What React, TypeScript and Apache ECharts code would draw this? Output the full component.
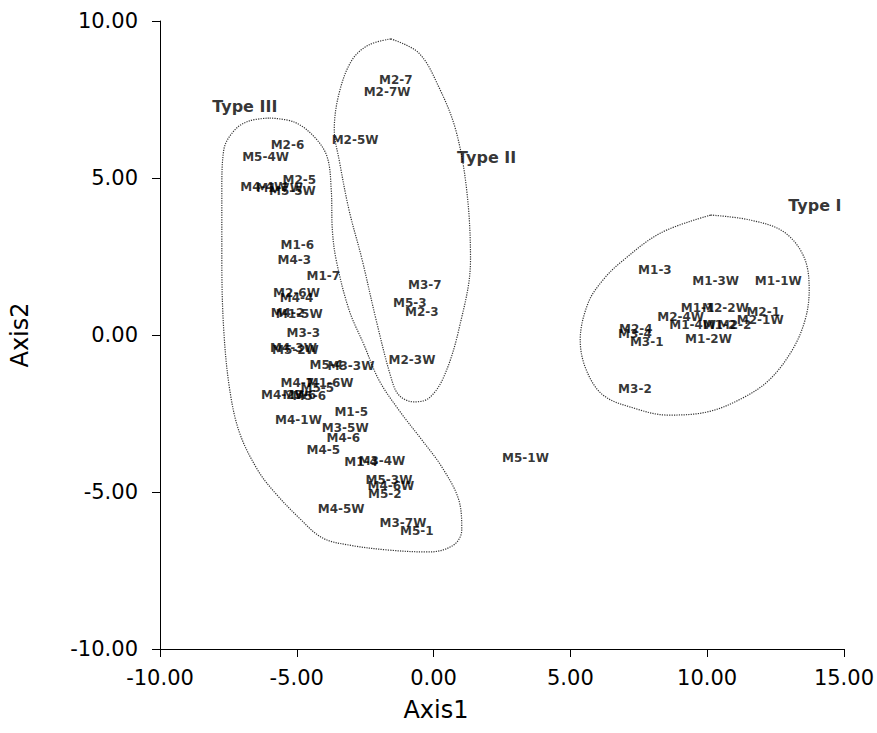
import React, { useEffect, useRef } from "react";
import * as echarts from "echarts";

// Sample labels and their coordinates (Axis1, Axis2)
const pointNames = [
  "M2-6", "M5-4W", "M2-5", "M4-4W", "M1-7W", "M5-5W", "M1-6", "M4-3", "M1-7",
  "M2-6W", "M4-4", "M4-2", "M1-5W", "M3-3", "M4-3W", "M5-2W", "M5-4", "M3-3W",
  "M4-7", "M5-5", "M1-6W", "M4-2W", "M3-6", "M5-6", "M1-5", "M4-1W", "M3-5W",
  "M4-6", "M4-5", "M1-4", "M3-4W", "M5-3W", "M4-6W", "M5-2", "M4-5W", "M3-7W", "M5-1",
  "M2-7", "M2-7W", "M2-5W", "M3-7", "M5-3", "M2-3", "M2-3W",
  "M1-3", "M1-3W", "M1-1W", "M1-1", "M2-2W", "M2-1", "M2-1W", "M2-4W", "M1-4W",
  "M1-2", "M2-2", "M1-2W", "M2-4", "M3-4", "M3-1", "M3-2",
  "M5-1W",
];
const pointX = [
  -5.34, -6.14, -4.91, -6.21, -5.63, -5.16, -4.98, -5.09, -4.03,
  -5.01, -5.01, -5.34, -4.91, -4.76, -5.12, -5.05, -3.92, -3.02,
  -4.98, -4.25, -3.78, -5.45, -4.91, -4.54, -3.01, -4.94, -3.23,
  -3.3, -4.03, -2.65, -1.89, -1.63, -1.56, -1.78, -3.38, -1.12, -0.61,
  -1.38, -1.7, -2.87, -0.32, -0.87, -0.43, -0.79,
  8.09, 10.31, 12.6, 9.65, 10.67, 12.05, 11.94, 9.03, 9.47,
  10.45, 11.0, 10.05, 7.39, 7.36, 7.79, 7.36,
  3.36,
];
const pointY = [
  6.05, 5.67, 4.94, 4.71, 4.68, 4.59, 2.87, 2.39, 1.88,
  1.34, 1.18, 0.7, 0.67, 0.06, -0.41, -0.48, -0.96, -0.99,
  -1.53, -1.69, -1.53, -1.91, -1.91, -1.94, -2.45, -2.71, -2.96,
  -3.28, -3.66, -4.04, -4.01, -4.62, -4.81, -5.06, -5.54, -5.99, -6.24,
  8.12, 7.74, 6.21, 1.59, 1.02, 0.73, -0.8,
  2.07, 1.72, 1.72, 0.86, 0.86, 0.73, 0.48, 0.57, 0.32,
  0.32, 0.32, -0.13, 0.19, 0.03, -0.22, -1.72,
  -3.92,
];

// Group titles
const groupNames = ["Type III", "Type II", "Type I"];
const groupX = [-6.9, 1.94, 13.94];
const groupY = [7.29, 5.64, 4.14];

// Dotted group outlines
const typeIIIOutlineX = [-5.99, -5.09, -4.36, -3.89, -3.74, -3.7, -3.56, -3.09, -2.54, -2.0, -1.27, -0.43, 0.3, 0.92, 1.03, 0.73, -0.17, -1.63, -3.09, -4.07, -4.91, -5.82, -6.43, -7.09, -7.45, -7.67, -7.74, -7.74, -7.67, -7.27, -6.73, -5.99];
const typeIIIOutlineY = [6.91, 6.78, 6.31, 5.67, 4.62, 3.34, 2.39, 0.8, -0.32, -1.43, -2.39, -3.34, -4.2, -5.25, -6.21, -6.69, -6.91, -6.85, -6.69, -6.46, -5.83, -5.0, -4.3, -3.12, -1.75, 0.16, 2.39, 4.62, 5.89, 6.53, 6.82, 6.91];
const typeIIOutlineX = [-1.56, -0.54, 0.19, 0.81, 1.21, 1.35, 0.92, 0.37, -0.17, -0.72, -1.27, -1.56, -2.1, -2.61, -3.09, -3.45, -3.63, -3.45, -2.98, -2.36, -1.56];
const typeIIOutlineY = [9.43, 8.98, 7.9, 6.53, 4.62, 2.39, 0.16, -1.34, -2.01, -2.13, -1.91, -1.34, 0.48, 2.39, 3.98, 5.57, 6.53, 7.71, 8.76, 9.24, 9.43];
const typeIOutlineX = [10.13, 11.58, 12.81, 13.54, 13.73, 13.58, 13.11, 12.27, 11.29, 10.01, 8.56, 7.29, 6.19, 5.58, 5.36, 5.65, 6.19, 6.85, 8.3, 10.13];
const typeIOutlineY = [3.82, 3.66, 3.28, 2.48, 1.43, 0.48, -0.48, -1.43, -2.01, -2.45, -2.55, -2.32, -1.91, -1.11, -0.16, 1.02, 1.75, 2.32, 3.25, 3.82];

const FONT = "'DejaVu Sans', 'Liberation Sans', Arial, sans-serif";

function zip(xs: number[], ys: number[]) {
  return xs.map((x, i) => [x, ys[i]]);
}

function outlineSeries(xs: number[], ys: number[]) {
  return {
    type: "line",
    data: zip(xs, ys),
    smooth: 0.35,
    symbol: "none",
    silent: true,
    lineStyle: { type: "dotted", width: 1.2, color: "#333" },
    z: 1,
  };
}

function labelSeries(names: string[], xs: number[], ys: number[], size: number) {
  return {
    type: "scatter",
    symbolSize: 1,
    silent: true,
    itemStyle: { color: "rgba(0,0,0,0)" },
    data: names.map((n, i) => ({ name: n, value: [xs[i], ys[i]] })),
    label: {
      show: true,
      position: "inside",
      formatter: "{b}",
      fontFamily: FONT,
      fontSize: size,
      fontWeight: "bold",
      color: "#000",
      textBorderWidth: 0,
      textShadowBlur: 0,
    },
    z: 3,
  };
}

export default function App() {
  const ref = useRef<HTMLDivElement>(null);
  useEffect(() => {
    if (!ref.current) return;
    const chart = echarts.init(ref.current, null, { renderer: "svg" });
    const axisCommon = {
      axisLine: { show: true, onZero: false, lineStyle: { color: "#000", width: 1 } },
      axisTick: { show: true, length: 8, lineStyle: { color: "#000" } },
      splitLine: { show: false },
    };
    chart.setOption({
      animation: false,
      backgroundColor: "#fff",
      grid: { left: 160, right: 30, top: 21, bottom: 84, containLabel: false },
      xAxis: {
        type: "value",
        min: -10,
        max: 15,
        interval: 5,
        ...axisCommon,
        axisLabel: {
          formatter: (v: number) => v.toFixed(2),
          fontFamily: FONT,
          fontSize: 21,
          color: "#000",
          margin: 18,
        },
        name: "Axis1",
        nameLocation: "middle",
        nameGap: 49,
        nameTextStyle: { fontFamily: FONT, fontSize: 24, color: "#000", padding: [0, 132, 0, 0] },
      },
      yAxis: {
        type: "value",
        min: -10,
        max: 10,
        interval: 5,
        ...axisCommon,
        axisLabel: {
          formatter: (v: number) => v.toFixed(2),
          fontFamily: FONT,
          fontSize: 21,
          color: "#000",
          margin: 22,
        },
        name: "Axis2",
        nameLocation: "middle",
        nameRotate: 90,
        nameGap: 128,
        nameTextStyle: { fontFamily: FONT, fontSize: 24, color: "#000" },
      },
      series: [
        outlineSeries(typeIIIOutlineX, typeIIIOutlineY),
        outlineSeries(typeIIOutlineX, typeIIOutlineY),
        outlineSeries(typeIOutlineX, typeIOutlineY),
        labelSeries(pointNames, pointX, pointY, 12),
        labelSeries(groupNames, groupX, groupY, 16),
      ],
    });
    return () => chart.dispose();
  }, []);
  return (
    <div
      ref={ref}
      style={{ position: "fixed", left: 0, top: 0, width: 877, height: 733, background: "#fff" }}
    />
  );
}
